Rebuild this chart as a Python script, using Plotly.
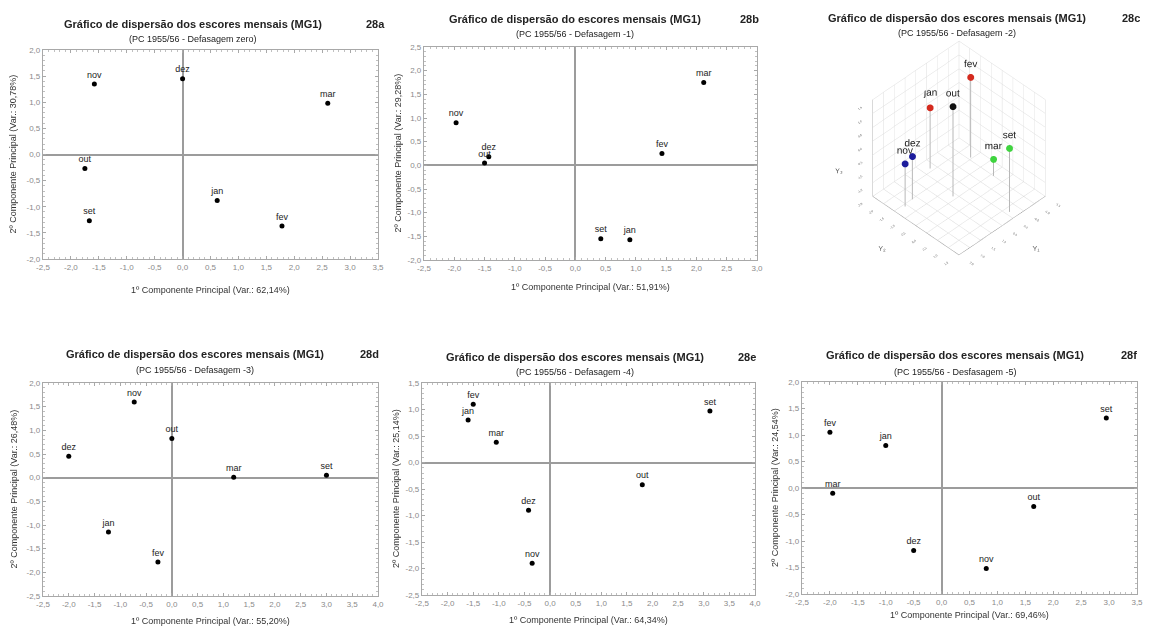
import numpy as np
import plotly.graph_objects as go

W, H = 1154, 628

# ---------------- data ----------------
months_a = ["nov", "dez", "mar", "out", "jan", "set", "fev"]
pc1_a = [-1.58, 0.00, 2.60, -1.75, 0.62, -1.67, 1.78]
pc2_a = [1.35, 1.45, 0.98, -0.27, -0.88, -1.27, -1.37]

months_b = ["nov", "dez", "out", "mar", "fev", "set", "jan"]
pc1_b = [-1.97, -1.43, -1.50, 2.12, 1.43, 0.42, 0.90]
pc2_b = [0.90, 0.18, 0.05, 1.75, 0.25, -1.55, -1.57]

months_c = ["fev", "jan", "out", "nov", "dez", "mar", "set"]
y1_c = [-1.10, 0.22, 0.64, 2.10, 1.68, -1.00, -0.14]
y2_c = [-1.56, -2.12, -0.64, -1.40, -1.48, -0.40, 1.20]
y3_c = [0.90, 0.20, 1.25, -0.45, -0.45, -1.40, 0.30]
colors_c = ["#d42a1e", "#d42a1e", "#111111", "#1c1c9c", "#1c1c9c", "#3fd43f", "#3fd43f"]

months_d = ["nov", "out", "dez", "mar", "set", "jan", "fev"]
pc1_d = [-0.73, 0.00, -2.00, 1.20, 3.00, -1.23, -0.27]
pc2_d = [1.60, 0.83, 0.45, 0.01, 0.05, -1.15, -1.78]

months_e = ["fev", "jan", "mar", "set", "out", "dez", "nov"]
pc1_e = [-1.50, -1.60, -1.05, 3.12, 1.80, -0.42, -0.35]
pc2_e = [1.10, 0.80, 0.38, 0.97, -0.42, -0.90, -1.90]

months_f = ["set", "fev", "jan", "mar", "out", "dez", "nov"]
pc1_f = [2.95, -2.00, -1.00, -1.95, 1.65, -0.50, 0.80]
pc2_f = [1.32, 1.05, 0.80, -0.10, -0.35, -1.18, -1.52]

title_dos = "Gráfico de dispersão dos escores mensais (MG1)"
title_do = "Gráfico de dispersão do escores mensais (MG1)"

panels = [
    dict(key="a", months=months_a, x=pc1_a, y=pc2_a, xr=[-2.5, 3.5], yr=[-2.0, 2.0],
         title=title_dos, sub="(PC 1955/56 - Defasagem zero)",
         xt="1º Componente Principal (Var.: 62,14%)", yt="2º Componente Principal (Var.: 30,78%)",
         px=(43, 378), py=(50, 259), ty=24, sy=39, tc=193, lx=387, xty=290, ytx=13),
    dict(key="b", months=months_b, x=pc1_b, y=pc2_b, xr=[-2.5, 3.0], yr=[-2.0, 2.5],
         title=title_do, sub="(PC 1955/56 - Defasagem -1)",
         xt="1º Componente Principal (Var.: 51,91%)", yt="2º Componente Principal (Var.: 29,28%)",
         px=(424, 757), py=(47, 260), ty=19, sy=34, tc=575, lx=761, xty=287, ytx=397),
    dict(key="d", months=months_d, x=pc1_d, y=pc2_d, xr=[-2.5, 4.0], yr=[-2.5, 2.0],
         title=title_dos, sub="(PC 1955/56 - Defasagem -3)",
         xt="1º Componente Principal (Var.: 55,20%)", yt="2º Componente Principal (Var.: 26,48%)",
         px=(43, 378), py=(383, 596), ty=354, sy=370, tc=195, lx=381, xty=621, ytx=13),
    dict(key="e", months=months_e, x=pc1_e, y=pc2_e, xr=[-2.5, 4.0], yr=[-2.5, 1.5],
         title=title_dos, sub="(PC 1955/56 - Defasagem -4)",
         xt="1º Componente Principal (Var.: 64,34%)", yt="2º Componente Principal (Var.: 25,14%)",
         px=(422, 755), py=(383, 595), ty=357, sy=372, tc=575, lx=758, xty=620, ytx=396),
    dict(key="f", months=months_f, x=pc1_f, y=pc2_f, xr=[-2.5, 3.5], yr=[-2.0, 2.0],
         title=title_dos, sub="(PC 1955/56 - Desfasagem -5)",
         xt="1º Componente Principal (Var.: 69,46%)", yt="2º Componente Principal (Var.: 24,54%)",
         px=(802, 1137), py=(382, 594), ty=355, sy=372, tc=955, lx=1139, xty=615, ytx=775),
]

FONT = "Liberation Sans, Arial, sans-serif"


def fmt(v):
    s = f"{v:.1f}".replace(".", ",")
    if s == "-0,0":
        s = "0,0"
    return s


def px2x(p):
    return p / W


def px2y(p):
    return 1 - p / H


fig = go.Figure()
annotations = []
layout = {}

for i, p in enumerate(panels):
    n = "" if i == 0 else str(i + 1)
    xa, ya = "xaxis" + n, "yaxis" + n
    xref, yref = "x" + n, "y" + n
    fig.add_trace(go.Scatter(
        x=p["x"], y=p["y"], text=p["months"], mode="markers+text",
        textposition="top center", xaxis=xref, yaxis=yref,
        marker=dict(color="black", size=5),
        textfont=dict(family=FONT, size=9, color="#222"),
        showlegend=False, cliponaxis=False, hoverinfo="skip"))

    def ax(rng, dom, anchor):
        tv = np.round(np.arange(rng[0], rng[1] + 1e-9, 0.5), 2)
        return dict(
            domain=dom, range=rng, anchor=anchor, automargin=False,
            tickmode="array", tickvals=list(tv), ticktext=[fmt(t) for t in tv],
            showgrid=False, zeroline=True, zerolinecolor="#9c9c9c", zerolinewidth=1.6,
            showline=True, linecolor="#a8a8a8", linewidth=1.2, mirror="allticks",
            ticks="inside", ticklen=3, tickcolor="#a8a8a8", tickwidth=1,
            minor=dict(ticks="inside", ticklen=2, tickmode="linear", tick0=0, dtick=0.1,
                       tickcolor="#c0c0c0", showgrid=False),
            tickfont=dict(family=FONT, size=8, color="#8a8a8a"),
            fixedrange=True)

    layout[xa] = ax(p["xr"], [px2x(p["px"][0]), px2x(p["px"][1])], yref)
    layout[ya] = ax(p["yr"], [px2y(p["py"][1]), px2y(p["py"][0])], xref)

    cx = (p["px"][0] + p["px"][1]) / 2
    cy = (p["py"][0] + p["py"][1]) / 2
    annotations += [
        dict(text="<b>" + p["title"] + "</b>", x=px2x(p["tc"]), y=px2y(p["ty"]),
             font=dict(family=FONT, size=11, color="#222")),
        dict(text=p["sub"], x=px2x(p["tc"]), y=px2y(p["sy"]),
             font=dict(family=FONT, size=9, color="#222")),
        dict(text="<b>28" + p["key"] + "</b>", x=px2x(p["lx"]), y=px2y(p["ty"]), xanchor="right",
             font=dict(family=FONT, size=11, color="#222")),
        dict(text=p["xt"], x=px2x(cx), y=px2y(p["xty"]),
             font=dict(family=FONT, size=9, color="#333")),
        dict(text=p["yt"], x=px2x(p["ytx"]), y=px2y(cy), textangle=-90,
             font=dict(family=FONT, size=9, color="#333")),
    ]

# ---------------- 3D panel (28c) ----------------
zfloor = -2.0
sx, sy, sz = [], [], []
for a, b, c in zip(y1_c, y2_c, y3_c):
    sx += [a, a, None]
    sy += [b, b, None]
    sz += [zfloor, c, None]
fig.add_trace(go.Scatter3d(x=sx, y=sy, z=sz, mode="lines",
                           line=dict(color="#b8b8b8", width=2),
                           showlegend=False, hoverinfo="skip", scene="scene"))
fig.add_trace(go.Scatter3d(x=y1_c, y=y2_c, z=y3_c, text=months_c, mode="markers+text",
                           textposition="top center",
                           marker=dict(color=colors_c, size=4, line=dict(width=0)),
                           textfont=dict(family=FONT, size=10, color="#222"),
                           showlegend=False, hoverinfo="skip", scene="scene"))


def ax3(rng, title):
    tv = np.round(np.arange(rng[0], rng[1] + 1e-9, 0.5), 2)
    return dict(range=rng, tickmode="array", tickvals=list(tv), ticktext=[fmt(t) for t in tv],
                title=dict(text=title, font=dict(family=FONT, size=7, color="#555")),
                tickfont=dict(family=FONT, size=6, color="#666"),
                showbackground=True, backgroundcolor="white",
                gridcolor="#dcdcdc", gridwidth=1, showline=True, linecolor="#999",
                zeroline=False, showspikes=False, ticks="")


annotations += [
    dict(text="<b>" + title_dos + "</b>", x=px2x(957), y=px2y(18),
         font=dict(family=FONT, size=11, color="#222")),
    dict(text="(PC 1955/56 - Defasagem -2)", x=px2x(957), y=px2y(33),
         font=dict(family=FONT, size=9, color="#222")),
    dict(text="<b>28c</b>", x=px2x(1142), y=px2y(18), xanchor="right",
         font=dict(family=FONT, size=11, color="#222")),
]
for a in annotations:
    a.update(xref="paper", yref="paper", showarrow=False)
    a.setdefault("xanchor", "center")
    a.setdefault("yanchor", "middle")

fig.update_layout(
    width=W, height=H, margin=dict(l=0, r=0, t=0, b=0, autoexpand=False),
    paper_bgcolor="white", plot_bgcolor="white",
    font=dict(family=FONT),
    annotations=annotations,
    scene=dict(
        domain=dict(x=[px2x(832), px2x(1086)], y=[px2y(270), px2y(26)]),
        xaxis=ax3([-1.5, 2.5], "Y₁"),
        yaxis=ax3([-2.5, 1.5], "Y₂"),
        zaxis=ax3([-2.0, 1.5], "Y₃"),
        aspectmode="manual", aspectratio=dict(x=1, y=1, z=1.08),
        camera=dict(eye=dict(x=1.3, y=1.3, z=1.7), projection=dict(type="orthographic")),
    ),
    **layout,
)

fig.write_html("out.html")
